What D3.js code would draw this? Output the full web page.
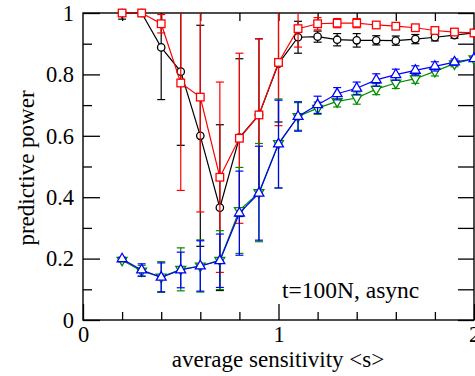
<!DOCTYPE html>
<html>
<head>
<meta charset="utf-8">
<script src="https://cdn.jsdelivr.net/npm/d3@7"></script>
<style>
  body { margin: 0; background: #fff; }
  svg text { font-family: "Liberation Serif", "Times New Roman", serif; fill: #000; }
</style>
</head>
<body>
<svg id="chart" width="475" height="376"></svg>
<script>
// average sensitivity <s>
const sens = [0.2, 0.3, 0.4, 0.5, 0.6, 0.7, 0.8, 0.9, 1.0, 1.1, 1.2, 1.3, 1.4, 1.5, 1.6, 1.7, 1.8, 1.9, 2.0];

const blackVals = [1.0, 1.0, 0.888, 0.809, 0.600, 0.366, 0.594, 0.668, 0.835, 0.921, 0.923, 0.913, 0.911, 0.911, 0.910, 0.915, 0.921, 0.928, 0.935];
const blackErr  = [0.02, 0.0, 0.17, 0.24, 0.36, 0.27, 0.257, 0.248, 0.19, 0.052, 0.018, 0.02, 0.022, 0.015, 0.015, 0.015, 0.012, 0.01, 0.005];

const redVals = [1.0, 1.0, 0.965, 0.772, 0.726, 0.465, 0.592, 0.668, 0.839, 0.949, 0.965, 0.967, 0.967, 0.961, 0.957, 0.952, 0.943, 0.938, 0.935];
const redErr  = [0.0, 0.0, 0.03, 0.35, 0.374, 0.31, 0.277, 0.248, 0.206, 0.06, 0.02, 0.015, 0.015, 0.006, 0.006, 0.008, 0.008, 0.005, 0.005];

const greenVals = [0.195, 0.16, 0.14, 0.165, 0.176, 0.195, 0.357, 0.415, 0.575, 0.663, 0.69, 0.712, 0.723, 0.752, 0.772, 0.786, 0.81, 0.835, 0.851];
const greenErr  = [0.005, 0.018, 0.05, 0.07, 0.085, 0.096, 0.14, 0.16, 0.145, 0.045, 0.02, 0.018, 0.02, 0.018, 0.018, 0.015, 0.015, 0.01, 0.005];

const blueVals = [0.199, 0.163, 0.139, 0.163, 0.176, 0.193, 0.348, 0.413, 0.573, 0.663, 0.701, 0.737, 0.755, 0.782, 0.799, 0.813, 0.826, 0.840, 0.851];
const blueErr  = [0.005, 0.02, 0.047, 0.058, 0.082, 0.087, 0.137, 0.153, 0.143, 0.048, 0.028, 0.02, 0.02, 0.02, 0.018, 0.015, 0.015, 0.01, 0.005];

const xMajor = [0, 1, 2];
const xMinor = [0.2, 0.4, 0.6, 0.8, 1.2, 1.4, 1.6, 1.8];
const yMajor = [0, 0.2, 0.4, 0.6, 0.8, 1];
const yMinor = [0.1, 0.3, 0.5, 0.7, 0.9];

const series = [
  { vals: blackVals, err: blackErr, color: '#000000', shape: 'circle' },
  { vals: redVals,   err: redErr,   color: '#ff0000', shape: 'square' },
  { vals: greenVals, err: greenErr, color: '#008c00', shape: 'down' },
  { vals: blueVals,  err: blueErr,  color: '#0000ff', shape: 'up' }
];

const pLeft = 83, pRight = 474, pTop = 13, pBottom = 320;

const x = d3.scaleLinear().domain([0, 2]).range([pLeft, pRight]);
const y = d3.scaleLinear().domain([0, 1]).range([pBottom, pTop]);

const svg = d3.select('#chart');

svg.append('defs').append('clipPath').attr('id', 'plot')
  .append('rect')
    .attr('x', pLeft).attr('y', pTop)
    .attr('width', pRight - pLeft).attr('height', pBottom - pTop);

function styleAxis(g) {
  g.select('.domain').remove();
  g.selectAll('.tick line').attr('stroke', '#000').attr('stroke-width', 1.3);
  g.selectAll('.tick text').style('font-size', '22.5px');
}

// bottom
svg.append('g').attr('transform', `translate(0,${pBottom})`)
  .call(d3.axisBottom(x).tickValues(xMajor).tickSizeInner(-16).tickSizeOuter(0).tickPadding(6).tickFormat(d3.format('d')))
  .call(styleAxis);
svg.append('g').attr('transform', `translate(0,${pBottom})`)
  .call(d3.axisBottom(x).tickValues(xMinor).tickSizeInner(-8).tickSizeOuter(0).tickFormat(''))
  .call(styleAxis);
// top
svg.append('g').attr('transform', `translate(0,${pTop})`)
  .call(d3.axisTop(x).tickValues(xMinor.concat([1])).tickSizeInner(-8).tickSizeOuter(0).tickFormat(''))
  .call(styleAxis);
// left
svg.append('g').attr('transform', `translate(${pLeft},0)`)
  .call(d3.axisLeft(y).tickValues(yMajor).tickSizeInner(-17).tickSizeOuter(0).tickPadding(9).tickFormat(d => d === 0 || d === 1 ? d3.format('d')(d) : d3.format('.1f')(d)))
  .call(styleAxis);
svg.append('g').attr('transform', `translate(${pLeft},0)`)
  .call(d3.axisLeft(y).tickValues(yMinor).tickSizeInner(-9).tickSizeOuter(0).tickFormat(''))
  .call(styleAxis);
// right
svg.append('g').attr('transform', `translate(${pRight},0)`)
  .call(d3.axisRight(y).tickValues(yMajor.concat(yMinor)).tickSizeInner(-16).tickSizeOuter(0).tickFormat(''))
  .call(styleAxis);

svg.append('rect')
  .attr('x', pLeft).attr('y', pTop)
  .attr('width', pRight - pLeft).attr('height', pBottom - pTop)
  .attr('fill', 'none').attr('stroke', '#000').attr('stroke-width', 1.4);

const line = d3.line().x(d => x(d[0])).y(d => y(d[1]));
const cap = 4;

const symTri = d3.symbol().type(d3.symbolTriangle).size(42);

series.forEach(s => {
  const pts = sens.map((v, i) => [v, s.vals[i], s.err[i]]);
  const g = svg.append('g');

  // error bars
  const eb = g.append('g').attr('clip-path', 'url(#plot)')
    .attr('stroke', s.color).attr('stroke-width', 1.2);
  const withErr = pts.filter(d => d[2] > 0);
  eb.selectAll('line.v').data(withErr).join('line').attr('class', 'v')
    .attr('x1', d => x(d[0])).attr('x2', d => x(d[0]))
    .attr('y1', d => y(d[1] - d[2])).attr('y2', d => y(d[1] + d[2]));
  eb.selectAll('line.lo').data(withErr).join('line').attr('class', 'lo')
    .attr('x1', d => x(d[0]) - cap).attr('x2', d => x(d[0]) + cap)
    .attr('y1', d => y(d[1] - d[2])).attr('y2', d => y(d[1] - d[2]));
  eb.selectAll('line.hi').data(withErr).join('line').attr('class', 'hi')
    .attr('x1', d => x(d[0]) - cap).attr('x2', d => x(d[0]) + cap)
    .attr('y1', d => y(d[1] + d[2])).attr('y2', d => y(d[1] + d[2]));

  g.append('path').datum(pts)
    .attr('d', line)
    .attr('fill', 'none').attr('stroke', s.color).attr('stroke-width', 1.2);

  const m = g.selectAll('.mk').data(pts);
  if (s.shape === 'circle') {
    m.join('circle')
      .attr('cx', d => x(d[0])).attr('cy', d => y(d[1])).attr('r', 3.7)
      .attr('fill', '#fff').attr('stroke', s.color).attr('stroke-width', 1.3);
  } else if (s.shape === 'square') {
    m.join('rect')
      .attr('x', d => x(d[0]) - 3.8).attr('y', d => y(d[1]) - 3.8)
      .attr('width', 7.6).attr('height', 7.6)
      .attr('fill', '#fff').attr('stroke', s.color).attr('stroke-width', 1.3);
  } else {
    const rot = s.shape === 'down' ? 180 : 0;
    m.join('path')
      .attr('d', symTri)
      .attr('transform', d => `translate(${x(d[0])},${y(d[1])}) rotate(${rot})`)
      .attr('fill', '#fff').attr('stroke', s.color).attr('stroke-width', 1.3);
  }
});

svg.append('text')
  .attr('x', 278).attr('y', 367)
  .attr('text-anchor', 'middle').style('font-size', '23px')
  .text('average sensitivity <s>');

svg.append('text')
  .attr('transform', 'translate(34,168) rotate(-90)')
  .attr('text-anchor', 'middle').style('font-size', '23px')
  .text('predictive power');

svg.append('text')
  .attr('x', 282).attr('y', 298)
  .style('font-size', '23.5px')
  .text('t=100N, async');
</script>
</body>
</html>
